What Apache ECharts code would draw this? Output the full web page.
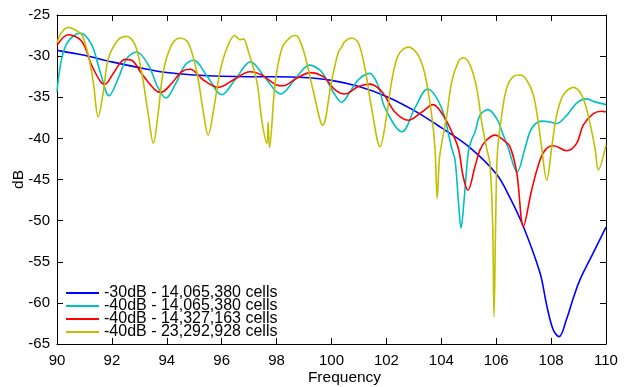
<!DOCTYPE html>
<html>
<head>
<meta charset="utf-8">
<script src="https://cdn.jsdelivr.net/npm/echarts@6/dist/echarts.min.js"></script>
<style>
html,body{margin:0;padding:0;background:#fff;}
#chart{width:624px;height:387px;}
</style>
</head>
<body>
<div id="chart"></div>
<script>
// ---- data ----
const xTicks = [90, 92, 94, 96, 98, 100, 102, 104, 106, 108, 110];
const yTicks = [-65, -60, -55, -50, -45, -40, -35, -30, -25];
const seriesNames = [
  '-30dB - 14,065,380 cells',
  '-40dB - 14,065,380 cells',
  '-40dB - 14,327,163 cells',
  '-40dB - 23,292,928 cells'
];

const blueFreq = [90, 91, 92, 93, 94, 95, 96, 97, 98, 99, 100, 101, 102, 103, 104, 105, 106, 106.5, 107, 107.6, 107.84, 108.08, 108.29, 108.57, 108.81, 109.05, 109.54, 110];
const blueDb   = [-29.3, -29.9, -30.7, -31.4, -32.0, -32.3, -32.45, -32.5, -32.5, -32.6, -32.95, -33.7, -34.9, -36.6, -38.7, -41.0, -44.3, -47.2, -50.8, -56.4, -60.3, -63.3, -64.1, -61.9, -59.4, -57.2, -53.9, -50.8];

const cyanFreq = [90, 90.17, 90.41, 90.84, 91.26, 91.57, 91.9, 92.23, 92.54, 92.9, 93.33, 93.69, 93.97, 94.3, 94.66, 94.97, 95.5, 96.0, 96.5, 97.05, 97.6, 98.15, 98.65, 99.2, 99.58, 99.76, 100.05, 100.37, 100.7, 101.0, 101.4, 101.7, 101.95, 102.57, 103.04, 103.5, 104.01, 104.38, 104.5, 104.62, 104.72, 104.83, 104.98, 105.1, 105.23, 105.41, 105.7, 106.02, 106.26, 106.44, 106.76, 107.05, 107.29, 107.66, 107.96, 108.2, 108.57, 108.93, 109.3, 109.54, 110];
const cyanDb   = [-34.3, -30.3, -28.2, -27.2, -28.6, -31.9, -34.8, -32.7, -30.3, -29.5, -31.1, -33.9, -35.1, -33.5, -31.1, -30.5, -32.6, -34.7, -32.8, -30.7, -32.7, -34.6, -32.9, -31.1, -31.7, -32.5, -34.3, -35.6, -34.2, -32.8, -32.1, -33.6, -36.3, -39.2, -36.3, -34.0, -36.3, -41.2, -42.6, -47.5, -50.9, -47.5, -41.8, -40.2, -39.2, -37.2, -36.5, -37.6, -39.6, -41.2, -44.1, -41.2, -38.8, -37.9, -38.0, -38.2, -37.2, -35.7, -35.2, -35.5, -35.9];

const redFreq = [90, 90.41, 90.9, 91.26, 91.63, 91.75, 92.05, 92.48, 92.72, 93.08, 93.57, 93.79, 94.18, 94.54, 94.85, 95.33, 95.88, 96.42, 97.03, 97.46, 98.0, 98.24, 98.73, 99.22, 99.7, 100.13, 100.49, 100.98, 101.4, 101.83, 102.31, 102.8, 103.29, 103.7, 104.07, 104.38, 104.62, 104.8, 104.97, 105.23, 105.41, 105.65, 105.96, 106.26, 106.5, 106.75, 106.99, 107.29, 107.6, 107.84, 108.08, 108.57, 108.93, 109.17, 109.54, 109.84, 110];
const redDb   = [-28.7, -27.4, -28.2, -31.1, -33.3, -33.4, -32.1, -30.4, -30.5, -32.1, -34.1, -34.4, -33.3, -31.9, -31.6, -32.9, -33.8, -32.9, -31.9, -32.3, -33.5, -33.6, -32.7, -32.0, -32.5, -34.1, -34.6, -33.7, -33.4, -34.3, -36.8, -37.8, -36.8, -35.9, -37.2, -39.2, -41.2, -44.7, -46.3, -43.4, -41.4, -40.2, -39.6, -40.2, -41.0, -44.2, -50.7, -46.3, -42.6, -41.2, -40.9, -41.5, -40.6, -38.4, -37.0, -36.7, -36.8];

const yellowFreq = [90, 90.15, 90.41, 90.65, 90.9, 91.14, 91.32, 91.5, 91.69, 91.87, 92.23, 92.54, 92.84, 93.08, 93.33, 93.51, 93.69, 93.87, 94.18, 94.48, 94.78, 95.09, 95.33, 95.51, 95.69, 95.94, 96.18, 96.48, 96.66, 96.79, 96.96, 97.28, 97.47, 97.65, 97.69, 97.74, 97.95, 98.2, 98.5, 98.67, 98.79, 99.03, 99.34, 99.68, 100.0, 100.25, 100.37, 100.49, 100.74, 100.98, 101.22, 101.46, 101.77, 102.01, 102.19, 102.43, 102.8, 103.16, 103.41, 103.65, 103.77, 103.85, 103.93, 104.01, 104.2, 104.38, 104.62, 104.8, 105.05, 105.29, 105.47, 105.65, 105.77, 105.87, 105.92, 105.98, 106.04, 106.2, 106.38, 106.62, 106.87, 107.11, 107.35, 107.53, 107.66, 107.84, 108.02, 108.2, 108.45, 108.81, 109.11, 109.35, 109.6, 109.72, 110];
const yellowDb   = [-28.4, -27.2, -26.5, -26.8, -27.4, -29.9, -33.1, -37.4, -34.3, -30.3, -28.0, -27.6, -28.6, -31.9, -37.2, -40.6, -36.8, -31.9, -28.6, -27.8, -28.4, -31.9, -36.8, -39.6, -36.8, -31.9, -29.1, -27.5, -28.0, -27.9, -29.3, -33.1, -38.0, -40.6, -38.0, -41.1, -33.2, -29.0, -27.7, -27.5, -27.7, -29.9, -34.3, -38.4, -33.1, -29.5, -28.9, -28.2, -27.8, -28.4, -31.5, -36.3, -41.0, -37.2, -33.1, -29.9, -28.9, -29.9, -32.3, -37.2, -41.2, -47.3, -42.5, -40.7, -37.2, -33.1, -30.7, -30.2, -31.1, -33.9, -38.0, -41.2, -43.0, -50.3, -61.7, -50.3, -42.0, -37.2, -33.9, -32.5, -32.3, -32.9, -34.7, -38.0, -41.2, -45.1, -41.2, -37.2, -34.7, -33.8, -34.7, -37.2, -41.2, -43.8, -40.8];

// ---- build ----
function pairs(xs, ys) { return xs.map((x, i) => [x, ys[i]]); }
const colors = ['#0000ff', '#00c0c0', '#ff0000', '#c0c000'];
const data = [
  pairs(blueFreq, blueDb),
  pairs(cyanFreq, cyanDb),
  pairs(redFreq, redDb),
  pairs(yellowFreq, yellowDb)
];

const FONT = 'Liberation Sans, Arial, Helvetica, sans-serif';
const chart = echarts.init(document.getElementById('chart'), null, { renderer: 'canvas' });

const axisLine = { show: true, lineStyle: { color: '#000', width: 1 } };
const tickStyle = { show: true, inside: true, length: 6, lineStyle: { color: '#000', width: 1 } };

chart.setOption({
  animation: false,
  backgroundColor: '#fff',
  grid: { left: 57, right: 18, top: 15, bottom: 43, containLabel: false, outerBoundsMode: 'none' },
  legend: {
    orient: 'vertical',
    left: 66,
    top: 285,
    padding: 0,
    icon: 'rect',
    itemWidth: 33,
    itemHeight: 2,
    itemGap: -3,
    align: 'left',
    data: seriesNames,
    textStyle: { fontFamily: FONT, fontSize: 16, color: '#000' }
  },
  xAxis: [
    {
      type: 'value', position: 'bottom', min: xTicks[0], max: xTicks[xTicks.length - 1], interval: 2,
      axisLine: axisLine, axisTick: tickStyle, splitLine: { show: false },
      axisLabel: { color: '#000', fontFamily: FONT, fontSize: 15, margin: 9 },
      name: 'Frequency', nameLocation: 'middle', nameGap: 26, nameMoveOverlap: false,
      nameTextStyle: { color: '#000', fontFamily: FONT, fontSize: 15.5, padding: [0, 0, 0, 26] }
    },
    {
      type: 'value', position: 'top', min: xTicks[0], max: xTicks[xTicks.length - 1], interval: 2,
      axisLine: axisLine, axisTick: tickStyle, splitLine: { show: false },
      axisLabel: { show: false }
    }
  ],
  yAxis: [
    {
      type: 'value', position: 'left', min: yTicks[0], max: yTicks[yTicks.length - 1], interval: 5,
      axisLine: axisLine, axisTick: tickStyle, splitLine: { show: false },
      axisLabel: { color: '#000', fontFamily: FONT, fontSize: 15, margin: 7 },
      name: 'dB', nameLocation: 'middle', nameGap: 30, nameRotate: 90, nameMoveOverlap: false,
      nameTextStyle: { color: '#000', fontFamily: FONT, fontSize: 15.5 }
    },
    {
      type: 'value', position: 'right', min: yTicks[0], max: yTicks[yTicks.length - 1], interval: 5,
      axisLine: axisLine, axisTick: tickStyle, splitLine: { show: false },
      axisLabel: { show: false }
    }
  ],
  series: seriesNames.map((name, i) => ({
    name: name,
    type: 'line',
    xAxisIndex: 0,
    yAxisIndex: 0,
    data: data[i],
    smooth: 0.35,
    showSymbol: false,
    symbol: 'none',
    clip: true,
    lineStyle: { color: colors[i], width: 1.6 },
    itemStyle: { color: colors[i] }
  }))
});
</script>
</body>
</html>
